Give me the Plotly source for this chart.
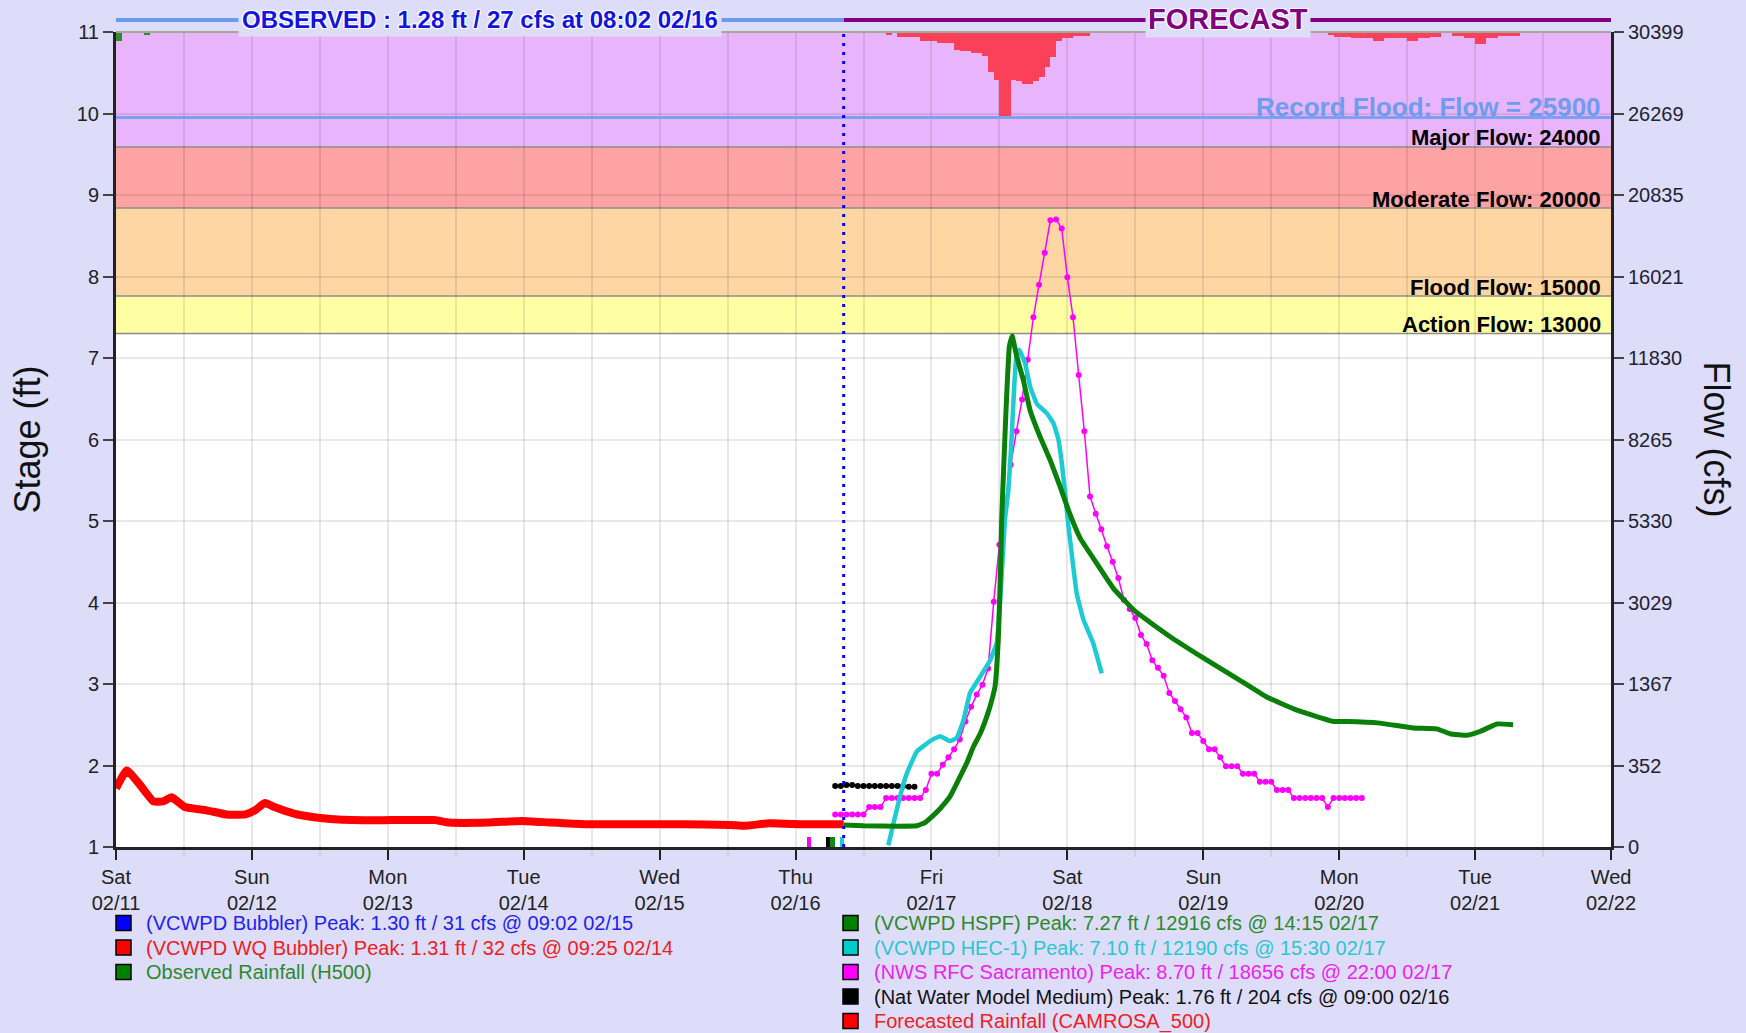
import plotly.graph_objects as go
import pandas as pd

YEAR = "2023-"

# ---------------- axis ticks ----------------
stage_ticks = [1, 2, 3, 4, 5, 6, 7, 8, 9, 10, 11]
flow_ticks = ["0", "352", "1367", "3029", "5330", "8265", "11830", "16021", "20835", "26269", "30399"]
day_ticks = ["02-11", "02-12", "02-13", "02-14", "02-15", "02-16", "02-17", "02-18", "02-19", "02-20", "02-21", "02-22"]
day_labels = ["Sat<br>02/11", "Sun<br>02/12", "Mon<br>02/13", "Tue<br>02/14", "Wed<br>02/15", "Thu<br>02/16",
              "Fri<br>02/17", "Sat<br>02/18", "Sun<br>02/19", "Mon<br>02/20", "Tue<br>02/21", "Wed<br>02/22"]

# ---------------- flood thresholds (stage ft) ----------------
threshold_labels = ["Action Flow: 13000", "Flood Flow: 15000", "Moderate Flow: 20000", "Major Flow: 24000"]
threshold_stage = [7.30, 7.76, 8.84, 9.59]
record_label = "Record Flood: Flow = 25900"
record_stage = 9.95
now_time = "02-16 08:30"

# ---------------- observed: VCWPD WQ Bubbler ----------------
wq_time = ["02-11 00:00", "02-11 01:54", "02-11 04:02", "02-11 06:36", "02-11 08:18", "02-11 09:50",
           "02-11 12:09", "02-11 16:00", "02-11 19:26", "02-11 22:51", "02-12 00:33", "02-12 02:17",
           "02-12 03:59", "02-12 07:25", "02-12 11:41", "02-12 17:41", "02-13 00:32", "02-13 08:15",
           "02-13 10:48", "02-13 17:40", "02-13 23:38", "02-14 04:48", "02-14 10:48", "02-14 19:12",
           "02-15 03:55", "02-15 12:29", "02-15 15:01", "02-15 19:19", "02-16 01:18", "02-16 08:30"]
wq_stage = [1.72, 1.94, 1.78, 1.56, 1.56, 1.61,
            1.49, 1.45, 1.40, 1.40, 1.45, 1.54,
            1.49, 1.41, 1.36, 1.33, 1.33, 1.33,
            1.30, 1.30, 1.32, 1.30, 1.28, 1.28,
            1.28, 1.27, 1.26, 1.29, 1.28, 1.28]

# ---------------- forecast: VCWPD HSPF ----------------
hspf_time = ["02-16 08:30", "02-16 12:00", "02-16 18:00", "02-16 21:24", "02-16 22:52", "02-17 00:03",
             "02-17 01:31", "02-17 03:17", "02-17 04:45", "02-17 06:14", "02-17 07:24", "02-17 08:36",
             "02-17 09:46", "02-17 10:39", "02-17 11:14", "02-17 11:48", "02-17 12:00", "02-17 12:14",
             "02-17 12:24", "02-17 12:42", "02-17 13:00", "02-17 13:18", "02-17 13:45", "02-17 14:15",
             "02-17 15:03", "02-17 16:13", "02-17 17:25", "02-17 19:12", "02-17 20:57", "02-17 22:44",
             "02-18 00:12", "02-18 02:15", "02-18 05:11", "02-18 08:10", "02-18 12:00", "02-18 18:10",
             "02-19 00:00", "02-19 05:54", "02-19 11:12", "02-19 16:31", "02-19 22:58", "02-20 01:21",
             "02-20 07:12", "02-20 13:06", "02-20 17:14", "02-20 19:35", "02-20 22:34", "02-21 00:58",
             "02-21 03:50", "02-21 06:43"]
hspf_stage = [1.27, 1.26, 1.255, 1.26, 1.30, 1.37,
              1.47, 1.62, 1.82, 2.03, 2.23, 2.39,
              2.60, 2.80, 2.97, 3.54, 3.95, 4.50,
              5.01, 5.56, 6.08, 6.57, 7.14, 7.27,
              7.02, 6.73, 6.36, 6.03, 5.75, 5.42,
              5.13, 4.79, 4.48, 4.17, 3.89, 3.58,
              3.32, 3.07, 2.84, 2.68, 2.54, 2.54,
              2.52, 2.46, 2.45, 2.39, 2.37, 2.42,
              2.51, 2.50]

# ---------------- forecast: VCWPD HEC-1 ----------------
hec_time = ["02-16 16:23", "02-16 17:17", "02-16 18:27", "02-16 19:38", "02-16 21:24", "02-16 23:46",
            "02-17 01:31", "02-17 03:17", "02-17 04:28", "02-17 05:38", "02-17 06:49", "02-17 08:36",
            "02-17 10:21", "02-17 11:31", "02-17 12:07", "02-17 12:58", "02-17 13:35", "02-17 14:10",
            "02-17 14:24", "02-17 14:56", "02-17 15:30", "02-17 16:31", "02-17 17:25", "02-17 18:36",
            "02-17 20:23", "02-17 21:32", "02-17 22:25", "02-17 23:01", "02-17 23:36", "02-18 00:12",
            "02-18 00:46", "02-18 01:39", "02-18 02:50", "02-18 04:34", "02-18 06:04"]
hec_stage = [1.02, 1.29, 1.62, 1.90, 2.17, 2.30,
             2.36, 2.30, 2.34, 2.55, 2.89, 3.09,
             3.29, 3.50, 4.00, 5.01, 5.38, 6.03,
             6.36, 6.98, 7.10, 6.94, 6.65, 6.44,
             6.32, 6.20, 6.00, 5.71, 5.34, 4.93,
             4.60, 4.11, 3.79, 3.50, 3.13]

# ---------------- forecast: NWS RFC Sacramento (hourly from 02/16 07:00) ----------------
rfc_start = "02-16 07:00"
rfc_stage = [1.40, 1.40, 1.40, 1.40, 1.40, 1.40, 1.49, 1.49, 1.49, 1.60, 1.60, 1.60, 1.60, 1.60, 1.60, 1.60, 1.70,
             1.90, 1.90, 2.01, 2.10, 2.20, 2.32, 2.54, 2.72, 2.87, 2.99, 3.19, 4.01, 4.71, 5.20, 5.69, 6.10,
             6.49, 6.98, 7.50, 7.90, 8.29, 8.69, 8.70, 8.59,
             7.99, 7.50, 6.79, 6.10, 5.30, 5.09, 4.90, 4.69, 4.50, 4.30, 4.03, 3.92, 3.81, 3.60, 3.49, 3.29,
             3.20, 3.10, 2.89, 2.79, 2.69, 2.59, 2.40, 2.40,
             2.30, 2.20, 2.20, 2.10, 1.99, 1.99, 1.99, 1.90, 1.90, 1.90, 1.80, 1.80, 1.80, 1.70, 1.70, 1.70,
             1.60, 1.60, 1.60, 1.60, 1.60, 1.60, 1.49, 1.60,
             1.60, 1.60, 1.60, 1.60, 1.60]

# ---------------- forecast: Nat Water Model Medium (hourly from 02/16 07:00) ----------------
nwm_start = "02-16 07:00"
nwm_stage = [1.75, 1.75, 1.76, 1.76, 1.75, 1.75, 1.75, 1.75, 1.75, 1.75, 1.75, 1.75, 1.75, 1.74, 1.74]

# ---------------- forecasted rainfall CAMROSA_500 (hour start, inches) ----------------
rain_time = ["02-16 16:00", "02-16 18:00", "02-16 19:00", "02-16 20:00", "02-16 21:00", "02-16 22:00",
             "02-16 23:00", "02-17 00:00", "02-17 01:00", "02-17 02:00", "02-17 03:00", "02-17 04:00",
             "02-17 05:00", "02-17 06:00", "02-17 07:00", "02-17 08:00", "02-17 09:00", "02-17 10:00",
             "02-17 11:00", "02-17 12:00", "02-17 13:00", "02-17 14:00", "02-17 15:00", "02-17 16:00",
             "02-17 17:00", "02-17 18:00", "02-17 19:00", "02-17 20:00", "02-17 21:00", "02-17 22:00",
             "02-17 23:00", "02-18 00:00", "02-18 01:00", "02-18 02:00", "02-18 03:00",
             "02-19 22:00", "02-19 23:00", "02-20 00:00", "02-20 01:00", "02-20 02:00", "02-20 03:00",
             "02-20 04:00", "02-20 05:00", "02-20 06:00", "02-20 07:00", "02-20 08:00", "02-20 09:00",
             "02-20 10:00", "02-20 11:00", "02-20 12:00", "02-20 13:00", "02-20 14:00", "02-20 15:00",
             "02-20 16:00", "02-20 17:00", "02-20 20:00", "02-20 21:00", "02-20 22:00", "02-20 23:00",
             "02-21 00:00", "02-21 01:00", "02-21 02:00", "02-21 03:00", "02-21 04:00", "02-21 05:00",
             "02-21 06:00", "02-21 07:00"]
rain_in = [0.007, 0.012, 0.012, 0.012, 0.012, 0.022,
           0.022, 0.022, 0.027, 0.027, 0.027, 0.044,
           0.047, 0.047, 0.051, 0.051, 0.058, 0.097,
           0.118, 0.213, 0.213, 0.118, 0.120, 0.128,
           0.128, 0.120, 0.110, 0.085, 0.062, 0.022,
           0.015, 0.015, 0.009, 0.009, 0.009,
           0.007, 0.012, 0.012, 0.012, 0.015, 0.015,
           0.015, 0.015, 0.022, 0.022, 0.015, 0.015,
           0.015, 0.015, 0.022, 0.022, 0.015, 0.015,
           0.012, 0.012, 0.009, 0.009, 0.015, 0.015,
           0.030, 0.030, 0.015, 0.015, 0.009, 0.009,
           0.009, 0.009]

# ---------------- observed rainfall H500 (hour start, inches) ----------------
obs_rain_time = ["02-11 00:00", "02-11 05:00"]
obs_rain_in = [0.022, 0.007]

# ---------------- small series markers near bottom (time, colour) ----------------
start_mark_time = ["02-16 02:23", "02-16 05:48", "02-16 06:32", "02-16 08:13"]
start_mark_color = ["#FF00FF", "#000000", "#128712", "#1ECBD2"]
start_mark_height = [0.12, 0.12, 0.12, 0.12]

# ---------------- legend ----------------
legend_left = [("(VCWPD Bubbler) Peak: 1.30 ft / 31 cfs @ 09:02 02/15", "#0000FF", "#2222EE"),
               ("(VCWPD WQ Bubbler) Peak: 1.31 ft / 32 cfs @ 09:25 02/14", "#FF0000", "#EE2020"),
               ("Observed Rainfall (H500)", "#008000", "#2A8A2A")]
legend_right = [("(VCWPD HSPF) Peak: 7.27 ft / 12916 cfs @ 14:15 02/17", "#008000", "#2A8A2A"),
                ("(VCWPD HEC-1) Peak: 7.10 ft / 12190 cfs @ 15:30 02/17", "#00CCCC", "#2CC6CE"),
                ("(NWS RFC Sacramento) Peak: 8.70 ft / 18656 cfs @ 22:00 02/17", "#FF00FF", "#EE22EE"),
                ("(Nat Water Model Medium) Peak: 1.76 ft / 204 cfs @ 09:00 02/16", "#000000", "#111111"),
                ("Forecasted Rainfall (CAMROSA_500)", "#FF0000", "#EE2020")]

observed_header = "OBSERVED : 1.28 ft / 27 cfs at 08:02 02/16"
forecast_header = "FORECAST"


def T(s):
    return pd.to_datetime(YEAR + s)


def Ts(lst):
    return [T(s) for s in lst]


def hourly(start, n):
    return list(pd.date_range(T(start), periods=n, freq="h"))


HALF_HOUR = pd.Timedelta(minutes=30)
HOUR_MS = 3600 * 1000

# ---------------- layout geometry (pixels) ----------------
W, H = 1746, 1033
PL, PR, PT, PB = 116, 1611, 32, 847


def px(x):
    return (x - PL) / (PR - PL)


def py(y):
    return (PB - y) / (PB - PT)


FONT = "Liberation Sans, Arial, sans-serif"
PAGE_BG = "#DDDDFA"

fig = go.Figure()

# rainfall bars (hanging from the top)
fig.add_trace(go.Bar(x=[t + HALF_HOUR for t in Ts(rain_time)], y=rain_in, width=HOUR_MS,
                     marker=dict(color="#FA4159", line=dict(width=0)), yaxis="y3",
                     name="Forecasted Rainfall (CAMROSA_500)", showlegend=False))
fig.add_trace(go.Bar(x=[t + HALF_HOUR for t in Ts(obs_rain_time)], y=obs_rain_in, width=HOUR_MS,
                     marker=dict(color="#2E8B2E", line=dict(width=0)), yaxis="y3",
                     name="Observed Rainfall (H500)", showlegend=False))

# small markers at the bottom
for t, c, h in zip(start_mark_time, start_mark_color, start_mark_height):
    fig.add_trace(go.Bar(x=[T(t)], y=[h], base=1, width=HOUR_MS * 0.85,
                         marker=dict(color=c, line=dict(width=0)), yaxis="y", showlegend=False))

# observed WQ bubbler
fig.add_trace(go.Scatter(x=Ts(wq_time), y=wq_stage, mode="lines",
                         line=dict(color="#FF0000", width=8, shape="spline", smoothing=0.4),
                         name="(VCWPD WQ Bubbler)", showlegend=False))
# NWM
fig.add_trace(go.Scatter(x=hourly(nwm_start, len(nwm_stage)), y=nwm_stage, mode="lines+markers",
                         line=dict(color="#000000", width=1.5), marker=dict(size=6, color="#000000"),
                         name="(Nat Water Model Medium)", showlegend=False))
# NWS RFC
fig.add_trace(go.Scatter(x=hourly(rfc_start, len(rfc_stage)), y=rfc_stage, mode="lines+markers",
                         line=dict(color="#FF00FF", width=1.5), marker=dict(size=6, color="#FF00FF"),
                         name="(NWS RFC Sacramento)", showlegend=False))
# HEC-1
fig.add_trace(go.Scatter(x=Ts(hec_time), y=hec_stage, mode="lines",
                         line=dict(color="#1ECBD2", width=4.5, shape="spline", smoothing=0.3),
                         name="(VCWPD HEC-1)", showlegend=False))
# HSPF
fig.add_trace(go.Scatter(x=Ts(hspf_time), y=hspf_stage, mode="lines",
                         line=dict(color="#0A800A", width=5, shape="spline", smoothing=0.3),
                         name="(VCWPD HSPF)", showlegend=False))

# ---------------- shapes ----------------
shapes = []
band_colors = ["#FEFEA3", "#FED6A3", "#FEA3A3", "#E8B5FD"]
band_edges = threshold_stage + [11]
for i, c in enumerate(band_colors):
    shapes.append(dict(type="rect", xref="paper", yref="y", x0=0, x1=1, y0=band_edges[i], y1=band_edges[i + 1],
                       fillcolor=c, line=dict(width=0), layer="below"))
for s in threshold_stage:
    shapes.append(dict(type="line", xref="paper", yref="y", x0=0, x1=1, y0=s, y1=s,
                       line=dict(color="#8C8C8C", width=1.5), layer="below"))
shapes.append(dict(type="line", xref="paper", yref="y", x0=0, x1=1, y0=record_stage, y1=record_stage,
                   line=dict(color="#7DA0F0", width=3), layer="above"))
shapes.append(dict(type="line", xref="paper", yref="paper", x0=0, x1=1, y0=1, y1=1,
                   line=dict(color="#A0A8A0", width=2), layer="above"))
shapes.append(dict(type="line", xref="x", yref="paper", x0=T(now_time), x1=T(now_time), y0=0, y1=1,
                   line=dict(color="#0000FF", width=3, dash="3px,6px"), layer="above"))
# header lines
split_x = px(844)
shapes.append(dict(type="line", xref="paper", yref="paper", x0=0, x1=split_x, y0=py(20), y1=py(20),
                   line=dict(color="#6A9AEA", width=4)))
shapes.append(dict(type="line", xref="paper", yref="paper", x0=split_x, x1=1, y0=py(20), y1=py(20),
                   line=dict(color="#800080", width=4)))

# ---------------- annotations ----------------
ann = []
WHITE_OUTLINE = "1px 1px 0 #fff, -1px -1px 0 #fff, 1px -1px 0 #fff, -1px 1px 0 #fff, 0 0 2px #fff"
ann.append(dict(text="<b>" + observed_header + "</b>", xref="paper", yref="paper", x=px(480), y=py(19),
                xanchor="center", yanchor="middle", showarrow=False, bgcolor=PAGE_BG, borderpad=3,
                font=dict(family=FONT, size=24, color="#1414DC", shadow=WHITE_OUTLINE)))
ann.append(dict(text="<b>" + forecast_header + "</b>", xref="paper", yref="paper", x=px(1228), y=py(19),
                xanchor="center", yanchor="middle", showarrow=False, bgcolor=PAGE_BG, borderpad=2,
                font=dict(family=FONT, size=29, color="#800080", shadow=WHITE_OUTLINE)))
for lab, s in zip(threshold_labels, threshold_stage):
    ann.append(dict(text="<b>" + lab + "</b>", xref="paper", yref="y", x=px(1603), y=s, yshift=9,
                    xanchor="right", yanchor="middle", showarrow=False,
                    font=dict(family=FONT, size=22, color="#000000")))
ann.append(dict(text="<b>" + record_label + "</b>", xref="paper", yref="y", x=px(1603), y=record_stage,
                yshift=11, xanchor="right", yanchor="middle", showarrow=False,
                font=dict(family=FONT, size=26, color="#6E9CEE")))
# axis titles
ann.append(dict(text="Stage (ft)", xref="paper", yref="paper", x=px(27), y=0.5, textangle=-90,
                xanchor="center", yanchor="middle", showarrow=False,
                font=dict(family=FONT, size=36, color="#111111")))
ann.append(dict(text="Flow (cfs)", xref="paper", yref="paper", x=px(1716), y=0.5, textangle=90,
                xanchor="center", yanchor="middle", showarrow=False,
                font=dict(family=FONT, size=36, color="#111111")))

# legend
rows = [923, 947.5, 972, 996.5, 1021]
for col, (sq_x, txt_x) in zip([legend_left, legend_right], [(116, 144), (843, 872)]):
    for i, (txt, sqc, tc) in enumerate(col):
        yc = rows[i]
        shapes.append(dict(type="rect", xref="paper", yref="paper", x0=px(sq_x), x1=px(sq_x + 15),
                           y0=py(yc - 7.5), y1=py(yc + 7.5), fillcolor=sqc, line=dict(color="#000000", width=1.5)))
        ann.append(dict(text=txt, xref="paper", yref="paper", x=px(txt_x), y=py(yc), xanchor="left",
                        yanchor="middle", showarrow=False, font=dict(family=FONT, size=20, color=tc)))

GRID = "rgba(0,0,0,0.09)"
fig.update_layout(
    width=W, height=H, autosize=False,
    margin=dict(l=PL, r=W - PR, t=PT, b=H - PB, pad=0),
    paper_bgcolor=PAGE_BG, plot_bgcolor="#FFFFFF",
    barmode="overlay", bargap=0, showlegend=False,
    font=dict(family=FONT, size=20, color="#222222"),
    shapes=shapes, annotations=ann,
    xaxis=dict(type="date", range=[T("02-11 00:00"), T("02-22 00:00")],
               tickmode="array", tickvals=[T(d + " 00:00") for d in day_ticks], ticktext=day_labels,
               ticks="outside", ticklen=10, tickwidth=2, tickcolor="#222222",
               showgrid=True, gridcolor=GRID, gridwidth=2,
               minor=dict(tickmode="linear", tick0=T("02-11 12:00"), dtick=86400000, showgrid=True,
                          gridcolor=GRID, gridwidth=2, ticks="outside", ticklen=7, tickcolor="#D0D0D8"),
               showline=True, linecolor="#222222", linewidth=3, zeroline=False,
               tickfont=dict(family=FONT, size=20, color="#222222")),
    yaxis=dict(range=[1, 11], tickmode="array", tickvals=stage_ticks, ticks="outside", ticklen=10, tickwidth=2,
               tickcolor="#444444", showgrid=True, gridcolor=GRID, gridwidth=2, showline=True,
               linecolor="#222222", linewidth=3, zeroline=False,
               tickfont=dict(family=FONT, size=20, color="#222222")),
    yaxis2=dict(range=[1, 11], overlaying="y", side="right", tickmode="array", tickvals=stage_ticks,
                ticktext=flow_ticks, ticks="outside", ticklen=10, tickwidth=2, tickcolor="#444444",
                showgrid=False, showline=True, linecolor="#222222", linewidth=3, zeroline=False,
                tickfont=dict(family=FONT, size=20, color="#222233")),
    yaxis3=dict(range=[2, 0], overlaying="y", visible=False, showgrid=False),
)
# dummy trace to activate the right axis
fig.add_trace(go.Scatter(x=[T("02-11 00:00")], y=[1], yaxis="y2", mode="markers",
                         marker=dict(opacity=0), showlegend=False, hoverinfo="skip"))

fig.write_html("out.html", config={"displayModeBar": False},
               post_script="document.body.style.margin='0';document.body.style.overflow='hidden';")
